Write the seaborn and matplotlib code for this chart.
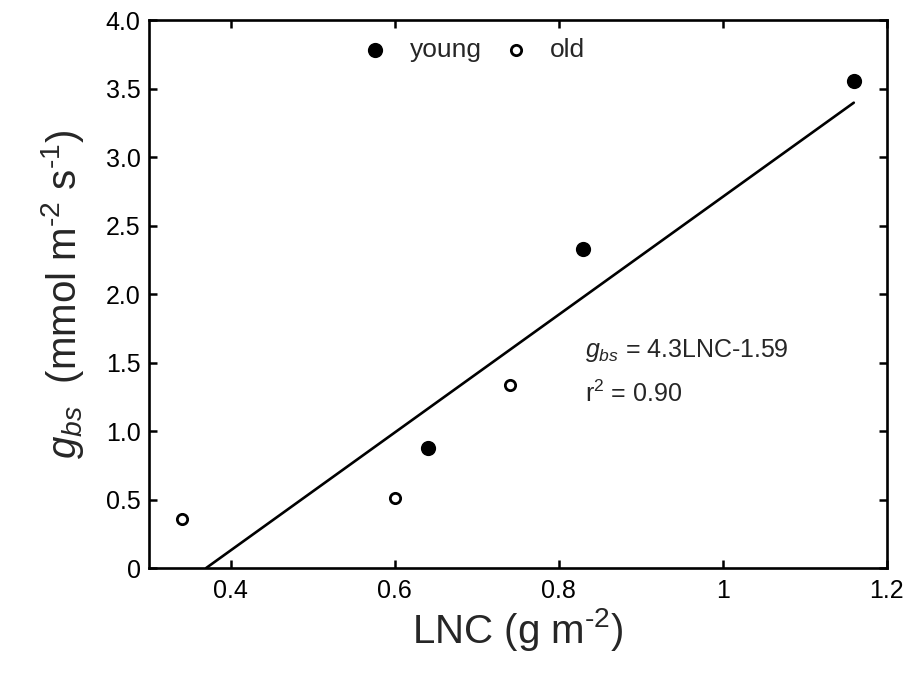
import numpy as np
import pandas as pd
import matplotlib
matplotlib.use("Agg")
import matplotlib.pyplot as plt
import seaborn as sns

# Leaf nitrogen content (g m-2) and bundle-sheath conductance (mmol m-2 s-1)
young_lnc = [0.64, 0.83, 1.16]
young_gbs = [0.875, 2.33, 3.555]
old_lnc = [0.34, 0.60, 0.74]
old_gbs = [0.36, 0.51, 1.335]

# Linear fit reported on the panel
fit_slope = 4.3
fit_intercept = -1.59
fit_r2 = 0.90

x_ticks = [0.4, 0.6, 0.8, 1.0, 1.2]
x_tick_labels = ["0.4", "0.6", "0.8", "1", "1.2"]
y_ticks = [0, 0.5, 1.0, 1.5, 2.0, 2.5, 3.0, 3.5, 4.0]
y_tick_labels = ["0", "0.5", "1.0", "1.5", "2.0", "2.5", "3.0", "3.5", "4.0"]

sns.set_theme(style="white")
plt.rcParams["font.family"] = ["Liberation Sans", "DejaVu Sans"]
plt.rcParams["mathtext.fontset"] = "custom"
plt.rcParams["mathtext.rm"] = "Liberation Sans"
plt.rcParams["mathtext.it"] = "Liberation Sans:italic"
plt.rcParams["mathtext.bf"] = "Liberation Sans:bold"

young = pd.DataFrame({"LNC": young_lnc, "gbs": young_gbs})
old = pd.DataFrame({"LNC": old_lnc, "gbs": old_gbs})

# Regression line from the x-intercept up to the largest LNC
x_start = -fit_intercept / fit_slope
x_end = max(young_lnc + old_lnc)
fit_x = np.array([x_start, x_end])
fit = pd.DataFrame({"LNC": fit_x, "gbs": fit_slope * fit_x + fit_intercept})

fig = plt.figure(figsize=(9.14, 6.75), dpi=100)
ax = fig.add_axes([0.163, 0.1585, 0.807, 0.8115])

sns.lineplot(data=fit, x="LNC", y="gbs", ax=ax, color="black", linewidth=1.9)
sns.scatterplot(data=young, x="LNC", y="gbs", ax=ax, color="black",
                edgecolor="black", s=95, linewidth=1.2, label="young", zorder=3)
sns.scatterplot(data=old, x="LNC", y="gbs", ax=ax, facecolor="white",
                edgecolor="black", s=55, linewidth=2.0, label="old", zorder=3)

ax.set_xlim(0.3, 1.2)
ax.set_ylim(0, 4.0)
ax.set_xticks(x_ticks)
ax.set_xticklabels(x_tick_labels)
ax.set_yticks(y_ticks)
ax.set_yticklabels(y_tick_labels)
ax.tick_params(axis="both", which="both", direction="in", length=6, width=1.8,
               labelsize=18, colors="black", top=True, right=True,
               bottom=True, left=True)
ax.tick_params(axis="x", pad=8)
ax.tick_params(axis="y", pad=6)
for spine in ax.spines.values():
    spine.set_visible(True)
    spine.set_color("black")
    spine.set_linewidth(1.9)

ax.set_xlabel(r"LNC (g m$^{\text{-2}}$)", fontsize=29, labelpad=2)
ax.set_ylabel(r"$g_{bs}$  (mmol m$^{\text{-2}}$ s$^{\text{-1}}$)", fontsize=29,
              labelpad=14)

ax.text(0.832, 1.69, r"$g_{bs}$ = 4.3LNC-1.59", fontsize=18, va="top", ha="left")
ax.text(0.832, 1.37, r"r$^{2}$ = %.2f" % fit_r2, fontsize=18, va="top", ha="left")

handles, labels = ax.get_legend_handles_labels()
leg = ax.legend(handles, labels, loc="center", bbox_to_anchor=(0.435, 0.945),
                ncol=2, frameon=False, fontsize=19, handletextpad=0.5,
                columnspacing=0.5, handlelength=1.6, markerscale=1.0)

fig.savefig("out.png", dpi=100, facecolor="white")
